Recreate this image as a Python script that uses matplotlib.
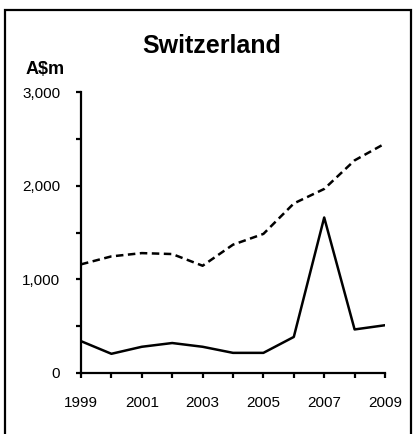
import matplotlib
matplotlib.use("Agg")
import matplotlib.pyplot as plt
from matplotlib.patches import Rectangle
from matplotlib.ticker import MultipleLocator, FuncFormatter

plt.rcParams['font.family'] = ['Liberation Sans', 'DejaVu Sans']

years = [1999, 2000, 2001, 2002, 2003, 2004, 2005, 2006, 2007, 2008, 2009]
# dashed series
dashed_vals = [1160, 1245, 1280, 1270, 1145, 1370, 1485, 1810, 1965, 2270, 2450]
# solid series
solid_vals = [340, 205, 280, 320, 280, 215, 215, 385, 1660, 465, 510]

xtick_years = [1999, 2001, 2003, 2005, 2007, 2009]

fig = plt.figure(figsize=(4.17, 4.34), dpi=100)

# frame round the whole panel
fig.patches.append(Rectangle((5 / 417, -0.05), 406 / 417, 1 - 10.5 / 434 + 0.05,
                             transform=fig.transFigure, fill=False,
                             edgecolor='black', linewidth=1.6))

ax = fig.add_axes([81 / 417, 1 - 373 / 434, (385 - 81) / 417, (373 - 92) / 434])

ax.plot(years, dashed_vals, color='black', linewidth=1.8, linestyle=(0, (3, 1.8)))
ax.plot(years, solid_vals, color='black', linewidth=1.8)

ax.set_xlim(1999, 2009)
ax.set_ylim(0, 3000)

for s in ['top', 'right']:
    ax.spines[s].set_visible(False)
for s in ['left', 'bottom']:
    ax.spines[s].set_linewidth(1.6)

ax.xaxis.set_minor_locator(MultipleLocator(1))
ax.set_xticks(xtick_years)
ax.yaxis.set_major_locator(MultipleLocator(1000))
ax.yaxis.set_minor_locator(MultipleLocator(500))
ax.yaxis.set_major_formatter(FuncFormatter(lambda v, p: f"{int(v):,}"))

ax.tick_params(axis='both', which='both', direction='out', length=3.5, width=1.6)
ax.tick_params(axis='y', which='major', labelsize=11, pad=11.5)
ax.tick_params(axis='x', which='major', labelsize=11, pad=13)

fig.text(212 / 417, 1 - 46 / 434, "Switzerland", ha='center', va='center',
         fontsize=18, fontweight='bold')
fig.text(45 / 417, 1 - 69 / 434, "A$m", ha='center', va='center',
         fontsize=13, fontweight='bold')

fig.savefig("out.png", dpi=100)
